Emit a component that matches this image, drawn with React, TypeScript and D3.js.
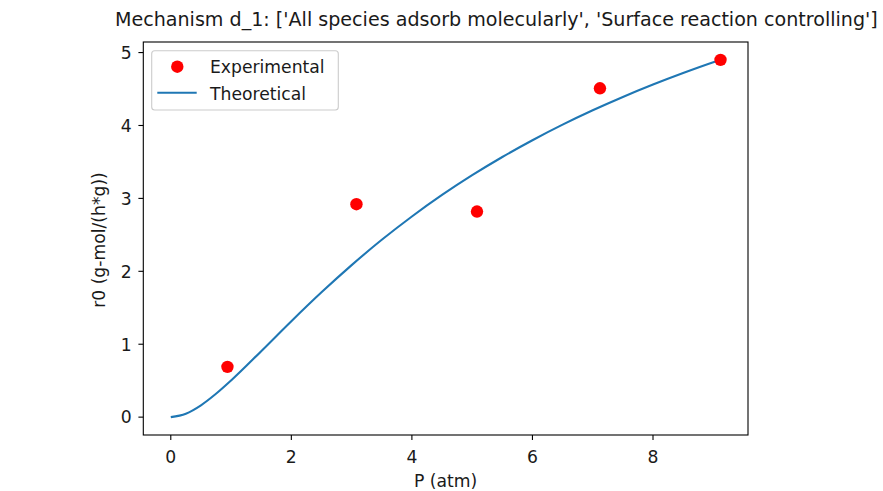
import React from "react";
import * as d3 from "d3";

const expP = [0.94, 3.08, 5.08, 7.12, 9.12];
const expR = [0.69, 2.92, 2.82, 4.51, 4.9];

const theoP = [0, 0.25, 0.5, 0.75, 1.0, 1.5, 2.0, 2.5, 3.0, 3.5, 4.0, 4.5, 5.0, 5.5, 6.0, 6.5, 7.0, 7.5, 8.0, 8.5, 9.0, 9.12];
const theoR = [0, 0.047, 0.162, 0.32, 0.503, 0.905, 1.316, 1.712, 2.085, 2.432, 2.752, 3.047, 3.318, 3.568, 3.798, 4.011, 4.208, 4.391, 4.561, 4.719, 4.867, 4.9];

const xTicks = [0, 2, 4, 6, 8];
const yTicks = [0, 1, 2, 3, 4, 5];

const titleText = "Mechanism d_1: ['All species adsorb molecularly', 'Surface reaction controlling']";
const xLabel = "P (atm)";
const yLabel = "r0 (g-mol/(h*g))";
const legendLabels = ["Experimental", "Theoretical"];

const W = 883;
const H = 491;
const left = 143.3;
const right = 748;
const top = 42;
const bottom = 435;

export default function App() {
  const xMin = -0.456, xMax = 9.576;
  const yMin = -0.245, yMax = 5.145;
  const x = d3.scaleLinear().domain([xMin, xMax]).range([left, right]);
  const y = d3.scaleLinear().domain([yMin, yMax]).range([bottom, top]);
  const line = d3
    .line<number>()
    .x((_, i) => x(theoP[i]))
    .y((d) => y(d))
    .curve(d3.curveMonotoneX);
  const font = "DejaVu Sans, sans-serif";
  const tc = "#1a1a1a";
  const fs = 17.2;
  return (
    <svg width={W} height={H} style={{ position: "absolute", left: 0, top: 0 }} fontFamily={font}>
      <rect x={0} y={0} width={W} height={H} fill="#fff" />
      <text x={115} y={25.5} fontSize={19.1} textAnchor="start" fill={tc}>
        {titleText}
      </text>
      <path d={line(theoR) || ""} fill="none" stroke="#1f77b4" strokeWidth={2.08} />
      {expP.map((p, i) => (
        <circle key={i} cx={x(p)} cy={y(expR[i])} r={6.2} fill="#ff0000" />
      ))}
      <rect x={left} y={top} width={right - left} height={bottom - top} fill="none" stroke="#000" strokeWidth={1.1} />
      {xTicks.map((t) => (
        <g key={"x" + t}>
          <line x1={x(t)} x2={x(t)} y1={bottom} y2={bottom + 4.9} stroke="#000" strokeWidth={1.1} />
          <text x={x(t)} y={463.3} fontSize={fs} textAnchor="middle" fill={tc}>
            {t}
          </text>
        </g>
      ))}
      {yTicks.map((t) => (
        <g key={"y" + t}>
          <line x1={left - 4.9} x2={left} y1={y(t)} y2={y(t)} stroke="#000" strokeWidth={1.1} />
          <text x={131.7} y={y(t) + 6.3} fontSize={fs} textAnchor="end" fill={tc}>
            {t}
          </text>
        </g>
      ))}
      <text x={(left + right) / 2} y={486.7} fontSize={fs} textAnchor="middle" fill={tc}>
        {xLabel}
      </text>
      <text
        transform={`translate(105,${(top + bottom) / 2 + 1.5}) rotate(-90)`}
        fontSize={fs}
        textAnchor="middle"
        fill={tc}
      >
        {yLabel}
      </text>
      <g>
        <rect x={151.7} y={50.7} width={186.6} height={59.3} rx={3} fill="#fff" fillOpacity={0.8} stroke="#cccccc" strokeWidth={1.1} />
        <circle cx={177.3} cy={66.7} r={6.2} fill="#ff0000" />
        <text x={210} y={73.3} fontSize={fs} fill={tc}>
          {legendLabels[0]}
        </text>
        <line x1={157.3} x2={196.7} y1={92.7} y2={92.7} stroke="#1f77b4" strokeWidth={2.08} />
        <text x={210} y={100} fontSize={fs} fill={tc}>
          {legendLabels[1]}
        </text>
      </g>
    </svg>
  );
}
